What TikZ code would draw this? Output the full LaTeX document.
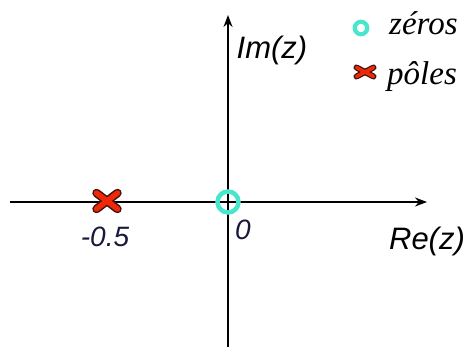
\documentclass[tikz,border=0pt]{standalone}
\usepackage{fontspec}
\setmainfont{Liberation Serif}
\setsansfont{Liberation Sans}
\usetikzlibrary{arrows.meta,calc}
\definecolor{zcol}{RGB}{72,230,205}
\definecolor{pcol}{RGB}{240,40,10}
\definecolor{pedge}{RGB}{60,20,15}
\definecolor{numcol}{RGB}{25,25,60}
\tikzset{
  axis/.style={line width=1.4pt,-{Stealth[length=12pt,width=9pt]}},
  lbl/.style={font=\fontsize{31}{31}\selectfont\sffamily\itshape,inner sep=0pt},
  num/.style={font=\fontsize{28}{28}\selectfont\sffamily\itshape,inner sep=0pt,text=numcol},
  leg/.style={font=\fontsize{33}{33}\selectfont\itshape,inner sep=0pt,anchor=base west},
}
\newcommand{\polemark}[5]{% coord, half-x, half-y, outer width, inner width
  \draw[draw=pedge,line width=#4,line cap=round] ($(#1)+(-#2,-#3)$) -- ($(#1)+(#2,#3)$);
  \draw[draw=pedge,line width=#4,line cap=round] ($(#1)+(-#2,#3)$) -- ($(#1)+(#2,-#3)$);
  \draw[draw=pcol,line width=#5,line cap=round] ($(#1)+(-#2,-#3)$) -- ($(#1)+(#2,#3)$);
  \draw[draw=pcol,line width=#5,line cap=round] ($(#1)+(-#2,#3)$) -- ($(#1)+(#2,-#3)$);
}
\begin{document}
\begin{tikzpicture}[x=1pt,y=-1pt]
\useasboundingbox (0,0) rectangle (465,347);
\coordinate (xl) at (10,202);
\coordinate (xr) at (427,202);
\coordinate (yb) at (228,347);
\coordinate (yt) at (228,15);
\draw[axis] (xl) -- (xr);
\draw[axis] (yb) -- (yt);
% zero
\node[circle,draw=zcol,line width=4.5pt,minimum size=21pt,inner sep=0pt] (z0) at (228,202) {};
% pole
\coordinate (p0) at (107,201);
\polemark{p0}{10.5pt}{8pt}{8.5pt}{5.5pt}
% labels
\node[lbl] (re) at (427,241) {Re(z)};
\node[lbl] (im) at (272,50) {Im(z)};
\node[num] (n05) at (105,237) {-0.5};
\node[num] (n0) at (243,230) {0};
% legend
\node[circle,draw=zcol,line width=4.2pt,minimum size=12.5pt,inner sep=0pt] (lz) at (361,28) {};
\node[leg] (lzt) at (389,35) {zéros};
\coordinate (lp) at (365,72);
\polemark{lp}{8.5pt}{4.5pt}{6pt}{3.6pt}
\node[leg] (lpt) at (387,85) {pôles};
\end{tikzpicture}
\end{document}
